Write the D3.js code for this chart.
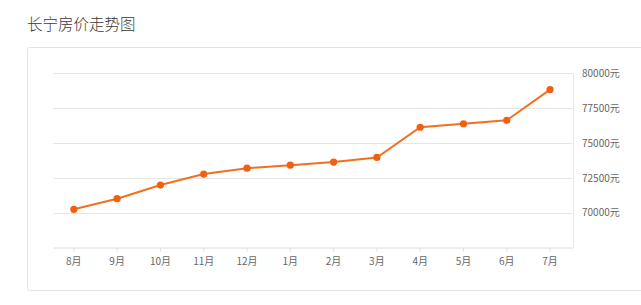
<!DOCTYPE html>
<html>
<head>
<meta charset="utf-8">
<script src="https://cdn.jsdelivr.net/npm/d3@7"></script>
<style>
  body { margin: 0; background: #fff; font-family: "Noto Sans CJK SC", "Noto Sans", sans-serif; }
  .axis text { fill: #666; font-size: 10px; font-family: "Noto Sans CJK SC", sans-serif; }
</style>
</head>
<body>
<div class="chart"></div>
<script>
// data
const months = ["8月", "9月", "10月", "11月", "12月", "1月", "2月", "3月", "4月", "5月", "6月", "7月"];
const prices = [70240, 71000, 71980, 72770, 73190, 73410, 73630, 73960, 76130, 76380, 76630, 78830];
const yTicks = [70000, 72500, 75000, 77500, 80000];

const W = 641, H = 305;
const svg = d3.select(".chart").append("svg")
  .attr("width", W)
  .attr("height", H);

// title
svg.append("text")
  .attr("x", 27)
  .attr("y", 29.5)
  .attr("fill", "#3a3a3a")
  .style("font-size", "15.5px")
  .style("font-weight", 300)
  .text("长宁房价走势图");

// panel frame
svg.append("rect")
  .attr("x", 27.5)
  .attr("y", 47.5)
  .attr("width", 640)
  .attr("height", 243)
  .attr("rx", 2)
  .attr("fill", "none")
  .attr("stroke", "#e3e3e3");

// scales
const plotLeft = 53, plotRight = 572.5;
const x = d3.scaleBand().domain(months).range([plotLeft, plotRight]);
const y = d3.scaleLinear().domain([67500, 80000]).range([247.5, 73.3]);
const cx = d => x(d) + x.bandwidth() / 2 - 0.8;

// grid lines
svg.append("g")
  .selectAll("line")
  .data(yTicks)
  .join("line")
  .attr("x1", plotLeft)
  .attr("x2", plotRight)
  .attr("y1", d => Math.round(y(d)) + 0.5)
  .attr("y2", d => Math.round(y(d)) + 0.5)
  .attr("stroke", "#e6e6e6");

// right axis line + labels
const yAxis = d3.axisRight(y)
  .tickValues(yTicks)
  .tickSize(0)
  .tickPadding(9)
  .tickFormat(d => d + "元");

svg.append("g")
  .attr("class", "axis y-axis")
  .attr("transform", "translate(" + (plotRight + 0.5) + ",0)")
  .call(yAxis)
  .call(g => g.select(".domain").attr("stroke", "#e6e6e6"));

// bottom axis
const xAxis = d3.axisBottom(x)
  .tickSize(4)
  .tickSizeOuter(0)
  .tickPadding(6);

svg.append("g")
  .attr("class", "axis x-axis")
  .attr("transform", "translate(0," + 247.5 + ")")
  .call(xAxis)
  .call(g => g.select(".domain").attr("stroke", "#dcdcdc"))
  .call(g => g.selectAll(".tick line").attr("stroke", "#e0e0e0"))
  .call(g => g.selectAll(".tick").attr("transform", d => "translate(" + cx(d) + ",0)"));

// line + points
const line = d3.line()
  .x((d, i) => cx(months[i]))
  .y(d => y(d));

svg.append("path")
  .datum(prices)
  .attr("d", line)
  .attr("fill", "none")
  .attr("stroke", "#f07020")
  .attr("stroke-width", 2);

svg.append("g")
  .selectAll("circle")
  .data(prices)
  .join("circle")
  .attr("cx", (d, i) => cx(months[i]))
  .attr("cy", d => y(d))
  .attr("r", 3.6)
  .attr("fill", "#f0600f");
</script>
</body>
</html>
